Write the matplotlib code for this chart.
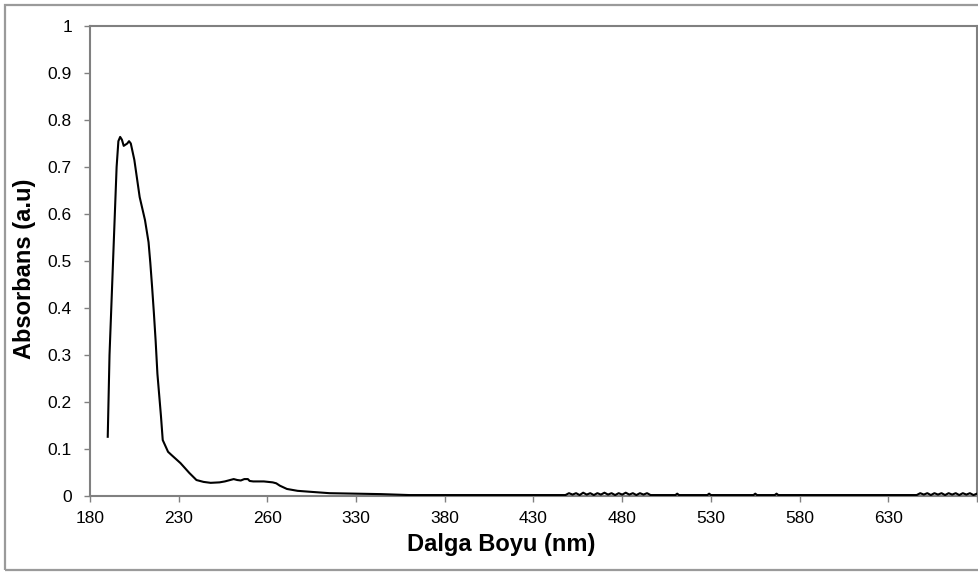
import matplotlib
matplotlib.use("Agg")
import matplotlib.pyplot as plt
from matplotlib.patches import Rectangle

# spectrometer channel index -> absorbance (a.u.)
# main band
channel = [10, 11, 13, 15, 16, 17, 18, 19, 21, 22, 23, 25, 28, 31, 33, 34,
           35, 36, 37, 38, 40, 41, 44, 46, 51, 56, 60, 64, 68, 73, 76, 81,
           83, 85, 87, 89, 90, 92, 98, 103, 105, 107, 111, 117, 124, 135,
           164, 180]
absorbance = [0.126, 0.30, 0.50, 0.70, 0.755, 0.764, 0.758, 0.745, 0.750,
              0.755, 0.750, 0.715, 0.636, 0.587, 0.540, 0.496, 0.445, 0.390,
              0.330, 0.260, 0.170, 0.119, 0.094, 0.087, 0.070, 0.049, 0.034,
              0.030, 0.028, 0.029, 0.031, 0.036, 0.034, 0.033, 0.036, 0.036,
              0.032, 0.031, 0.031, 0.029, 0.027, 0.022, 0.015, 0.011, 0.009,
              0.006, 0.004, 0.002]

# baseline with detector noise
channel += [268, 270, 272, 274, 276, 278, 280, 282, 284, 286, 288, 290,
            292, 294, 296, 298, 300, 302, 304, 306, 308, 310, 312, 314,
            316, 318]
absorbance += [0.002, 0.006, 0.003, 0.006, 0.002, 0.007, 0.003, 0.006,
               0.002, 0.006, 0.003, 0.007, 0.003, 0.006, 0.002, 0.006,
               0.003, 0.007, 0.003, 0.006, 0.002, 0.006, 0.003, 0.006,
               0.002, 0.002]

channel += [330, 331, 332, 348, 349, 350, 374, 375, 376, 386, 387, 388]
absorbance += [0.002, 0.005, 0.002, 0.002, 0.005, 0.002, 0.002, 0.005,
               0.002, 0.002, 0.005, 0.002]

channel += [466, 468, 470, 472, 474, 476, 478, 480, 482, 484, 486, 488,
            490, 492, 494, 496, 498, 500]
absorbance += [0.002, 0.006, 0.003, 0.006, 0.002, 0.006, 0.003, 0.006,
               0.002, 0.006, 0.003, 0.006, 0.002, 0.006, 0.003, 0.006,
               0.002, 0.005]

# wavelength labels every 50 channels
tick_channels = [0, 50, 100, 150, 200, 250, 300, 350, 400, 450, 500]
tick_labels = ["180", "230", "260", "330", "380", "430", "480", "530",
               "580", "630", ""]
y_ticks = [0, 0.1, 0.2, 0.3, 0.4, 0.5, 0.6, 0.7, 0.8, 0.9, 1]
y_labels = ["0", "0.1", "0.2", "0.3", "0.4", "0.5", "0.6", "0.7", "0.8",
            "0.9", "1"]

plt.rcParams["font.family"] = ["Liberation Sans", "DejaVu Sans"]

fig = plt.figure(figsize=(9.79, 5.72), dpi=100)
fig.patch.set_facecolor("white")

# outer chart frame
fig.add_artist(Rectangle((5 / 979, 2 / 572), 1.0, 565 / 572,
                         transform=fig.transFigure, fill=False,
                         edgecolor="#9a9a9a", linewidth=1.6, clip_on=False))

ax = fig.add_axes([90 / 979, 1 - 496 / 572, 887 / 979, 470 / 572])
ax.plot(channel, absorbance, color="black", linewidth=1.5, zorder=3)

ax.set_xlim(0, 500)
ax.set_ylim(0, 1)
ax.set_xticks(tick_channels)
ax.set_xticklabels(tick_labels)
ax.set_yticks(y_ticks)
ax.set_yticklabels(y_labels)

for side in ["left", "bottom", "top", "right"]:
    ax.spines[side].set_color("#808080")
    ax.spines[side].set_linewidth(1.5)

ax.tick_params(axis="both", direction="out", length=4, width=1,
               color="#808080", labelsize=12.5, pad=7)
ax.tick_params(axis="y", pad=9)

fig.text(501 / 979, 1 - 544 / 572, "Dalga Boyu (nm)", ha="center",
         va="center", fontsize=17, fontweight="bold")
fig.text(25 / 979, 1 - 269 / 572, "Absorbans (a.u)", ha="center",
         va="center", rotation=90, fontsize=17, fontweight="bold")

fig.savefig("out.png", dpi=100)
